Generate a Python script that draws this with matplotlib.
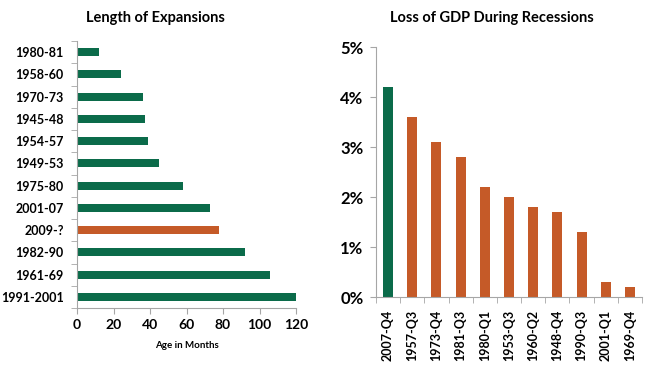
import matplotlib
matplotlib.use("Agg")
import matplotlib.pyplot as plt
import numpy as np
from matplotlib.ticker import FuncFormatter

plt.rcParams['font.family'] = ['Lato', 'DejaVu Sans']

GREEN = '#0B6B4A'
ORANGE = '#C55A28'
GRAY = '#A6A6A6'

# Left chart data
exp_labels = ['1980-81', '1958-60', '1970-73', '1945-48', '1954-57', '1949-53',
              '1975-80', '2001-07', '2009-?', '1982-90', '1961-69', '1991-2001']
exp_months = [12, 24, 36, 37, 39, 45, 58, 73, 78, 92, 106, 120]
exp_colors = [GREEN] * 8 + [ORANGE] + [GREEN] * 3

# Right chart data
rec_labels = ['2007-Q4', '1957-Q3', '1973-Q4', '1981-Q3', '1980-Q1', '1953-Q3',
              '1960-Q2', '1948-Q4', '1990-Q3', '2001-Q1', '1969-Q4']
rec_loss = [4.2, 3.6, 3.1, 2.8, 2.2, 2.0, 1.8, 1.7, 1.3, 0.3, 0.2]
rec_colors = [GREEN] + [ORANGE] * 10

fig = plt.figure(figsize=(6.5, 3.71), dpi=100)

# ---- Left
ax1 = fig.add_axes([77/650, 1-308/371, (296-77)/650, (308-41)/371])
y = np.arange(len(exp_labels))
ax1.barh(y, exp_months, height=0.37, color=exp_colors)
ax1.set_ylim(len(exp_labels) - 0.5, -0.5)
ax1.set_xlim(0, 120)
ax1.set_yticks(y)
ax1.set_yticklabels(exp_labels, fontsize=9, fontweight='bold')
ax1.set_yticks(np.arange(-0.5, len(exp_labels) + 0.5, 1), minor=True)
ax1.tick_params(axis='y', which='major', length=0, pad=9.5)
ax1.tick_params(axis='y', which='minor', length=4, color=GRAY, direction='out')
ax1.set_xticks([0, 20, 40, 60, 80, 100, 120])
ax1.tick_params(axis='x', length=4, color=GRAY, labelsize=10, pad=4)
for l in ax1.get_xticklabels():
    l.set_fontweight('bold')
ax1.set_xlabel('Age in Months', fontsize=7, fontweight='bold', labelpad=7)
ax1.set_title('Length of Expansions', fontsize=10.5, fontweight='bold', pad=14, x=0.36)
for s in ['top', 'right']:
    ax1.spines[s].set_visible(False)
for s in ['left', 'bottom']:
    ax1.spines[s].set_color(GRAY)

# ---- Right
ax2 = fig.add_axes([376/650, 1-297/371, (642-376)/650, (297-47)/371])
x = np.arange(len(rec_labels))
ax2.bar(x, rec_loss, width=0.41, color=rec_colors)
ax2.set_xlim(-0.5, len(rec_labels) - 0.5)
ax2.set_ylim(0, 5)
ax2.set_yticks([0, 1, 2, 3, 4, 5])
ax2.yaxis.set_major_formatter(FuncFormatter(lambda v, p: f'{v:.0f}%'))
ax2.tick_params(axis='y', length=4, color=GRAY, labelsize=12, pad=5)
for l in ax2.get_yticklabels():
    l.set_fontweight('bold')
ax2.set_xticks(x)
ax2.set_xticklabels(rec_labels, rotation=90, fontsize=9, fontweight='bold')
ax2.set_xticks(np.arange(-0.5, len(rec_labels) + 0.5, 1), minor=True)
ax2.tick_params(axis='x', which='major', length=0, pad=9)
ax2.tick_params(axis='x', which='minor', length=4, color=GRAY)
ax2.set_title('Loss of GDP During Recessions', fontsize=10.5, fontweight='bold', pad=18, x=0.436)
for s in ['top', 'right']:
    ax2.spines[s].set_visible(False)
for s in ['left', 'bottom']:
    ax2.spines[s].set_color(GRAY)

fig.savefig('out.png', dpi=100)
